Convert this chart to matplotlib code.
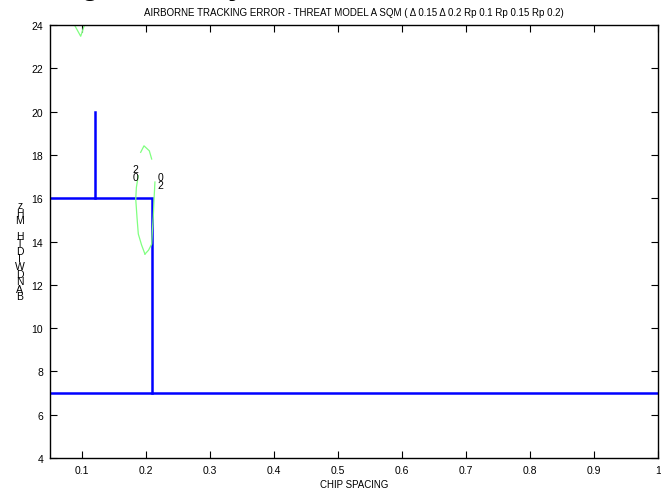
import matplotlib
matplotlib.use('Agg')
import matplotlib.pyplot as plt

plt.rcParams['font.family'] = ['Liberation Sans', 'DejaVu Sans']

title = 'AIRBORNE TRACKING ERROR - THREAT MODEL A SQM ( \u0394 0.15 \u0394 0.2 Rp 0.1 Rp 0.15 Rp 0.2)'
xlabel = 'CHIP SPACING'
ylabel = 'BANDWIDTH MHz'

xticks = [0.1, 0.2, 0.3, 0.4, 0.5, 0.6, 0.7, 0.8, 0.9, 1]
xticklabels = ['0.1', '0.2', '0.3', '0.4', '0.5', '0.6', '0.7', '0.8', '0.9', '1']
yticks = [4, 6, 8, 10, 12, 14, 16, 18, 20, 22, 24]

# blue region boundaries
bound_x = [0.05, 0.21, 0.21]
bound_y = [16, 16, 7]
bound2_x = [0.05, 1.0]
bound2_y = [7, 7]
spur_x = [0.12, 0.12]
spur_y = [16, 20]

# green contour pieces (level 20)
loop_left_x = [0.188, 0.185, 0.184, 0.186, 0.188, 0.193, 0.1984]
loop_left_y = [17.04, 16.5, 15.96, 15.1, 14.35, 13.85, 13.42]
loop_right_x = [0.2140, 0.2125, 0.2114, 0.2100, 0.2089, 0.2040, 0.1984]
loop_right_y = [16.75, 15.9, 15.13, 14.5, 13.88, 13.6, 13.42]
peak_x = [0.1917, 0.1969, 0.2052, 0.2089]
peak_y = [18.12, 18.42, 18.19, 17.81]
vee_x = [0.0855, 0.098, 0.1055]
vee_y = [24.15, 23.48, 24.15]

fig = plt.figure(figsize=(6.61, 4.89), dpi=100)
ax = fig.add_axes([0.0756, 0.0613, 0.9199, 0.8855])

ax.plot(bound_x, bound_y, color='#0000ff', lw=1.8, solid_joinstyle='miter')
ax.plot(bound2_x, bound2_y, color='#0000ff', lw=1.8)
ax.plot(spur_x, spur_y, color='#0000ff', lw=1.8)

green = '#80ff80'
for gx, gy in [(loop_left_x, loop_left_y), (loop_right_x, loop_right_y),
               (peak_x, peak_y), (vee_x, vee_y)]:
    ax.plot(gx, gy, color=green, lw=0.9)

ax.text(0.1835, 17.15, '2\n0', fontsize=7.5, ha='center', va='center', linespacing=0.75)
ax.text(0.222, 16.8, '0\n2', fontsize=7.5, ha='center', va='center', linespacing=0.75)

ax.set_xlim(0.05, 1.0)
ax.set_ylim(4, 24)
ax.set_xticks(xticks)
ax.set_xticklabels(xticklabels)
ax.set_yticks(yticks)
ax.tick_params(direction='in', length=5, width=0.8, labelsize=7.5,
               top=True, right=True, pad=5)
for s in ax.spines.values():
    s.set_linewidth(1.0)

ax.set_title(title, fontsize=7, pad=7)
ax.set_xlabel(xlabel, fontsize=7, labelpad=3)

# stacked y label, letters upright, read bottom to top
fig.text(0.03, 0.485, '\n'.join(reversed(ylabel)), fontsize=7.5, ha='center',
         va='center', linespacing=0.7)

# descenders of a cropped heading above the figure
fig.text(0.136, 1.013, 'g', fontsize=22, fontweight='bold', ha='center', va='baseline')
fig.text(0.358, 1.013, 'y', fontsize=22, fontweight='bold', ha='center', va='baseline')

fig.savefig('out.png', dpi=100)
